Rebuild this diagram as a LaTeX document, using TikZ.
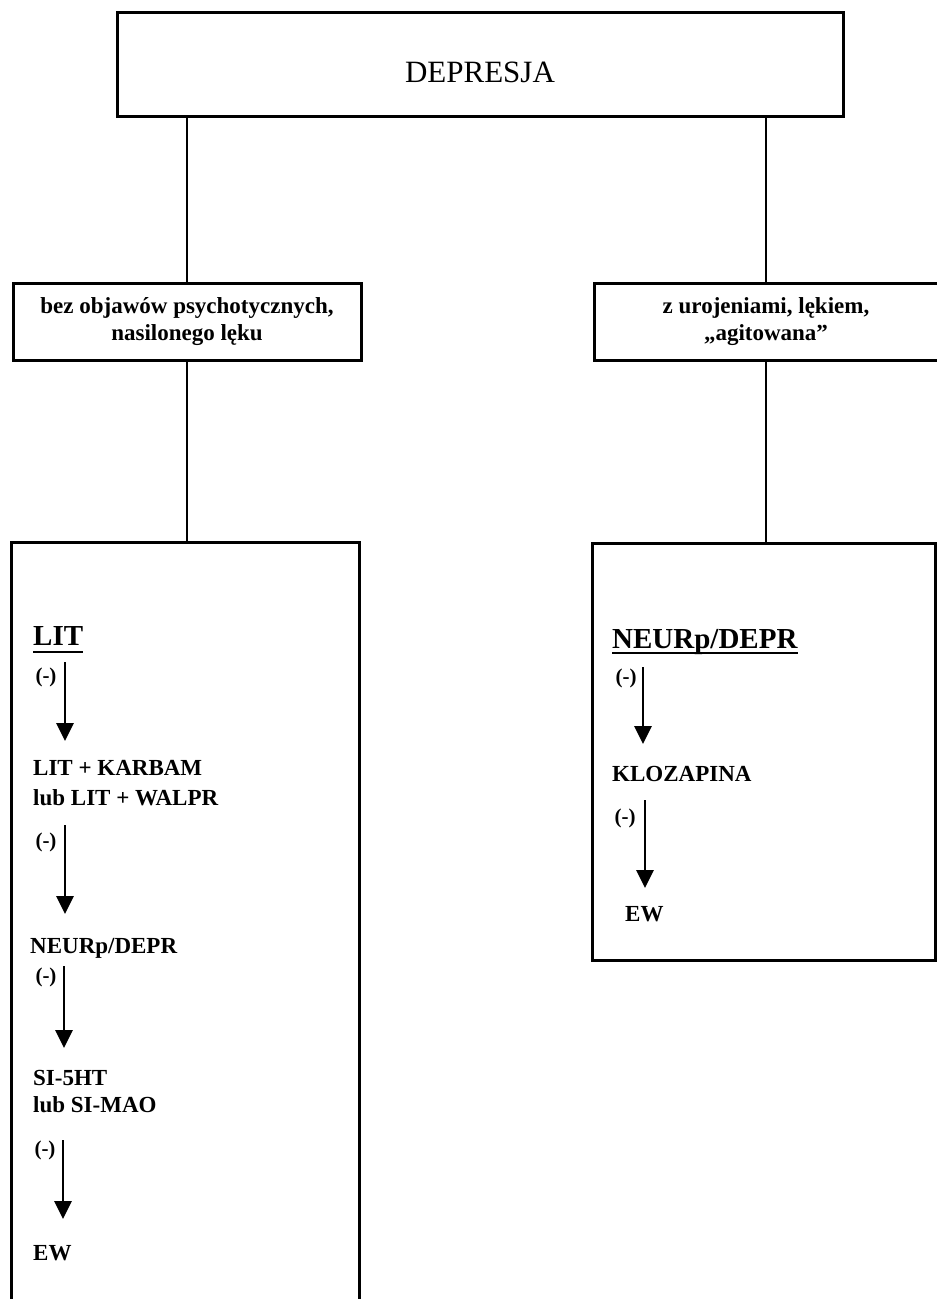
\documentclass[tikz,border=0pt]{standalone}
\usepackage{fontspec}
\setmainfont{Liberation Serif}
\usetikzlibrary{arrows.meta}
\begin{document}
\begin{tikzpicture}[x=1pt,y=-1pt,
  box/.style={draw, line width=3pt, inner sep=0pt},
  conn/.style={line width=2.6pt},
  arr/.style={line width=2.8pt, -{Triangle[length=18pt,width=17pt]}},
  body/.style={font=\fontsize{23}{29}\selectfont\bfseries, inner sep=0pt, anchor=base west},
  head/.style={font=\fontsize{29}{32}\selectfont\bfseries, inner sep=0pt, anchor=base west},
  minus/.style={font=\fontsize{21}{24}\selectfont\bfseries, inner sep=0pt},
  uline/.style={line width=1.8pt},
  midtext/.style={font=\fontsize{23}{27}\selectfont\bfseries, align=center}
]
\useasboundingbox (0,0) rectangle (937,1299);
\fill[white] (0,0) rectangle (937,1299);

% top box
\node[box, minimum width=726pt, minimum height=104pt,
      font=\fontsize{31}{34}\selectfont, text height=37pt, text depth=0pt] (top) at (480,64) {DEPRESJA};

% middle boxes
\node[box, midtext, minimum width=348pt, minimum height=77pt] (lm) at (187,321.5)
  {bez objawów psychotycznych,\\nasilonego lęku};
\node[box, midtext, minimum width=344pt, minimum height=77pt] (rm) at (766,321.5)
  {z urojeniami, lękiem,\\„agitowana”};

% bottom boxes
\node[inner sep=0pt, minimum width=347pt, minimum height=756pt] (lb) at (185.5,921) {};
\draw[line width=3pt] (lb.south west) -- (lb.north west) -- (lb.north east) -- (lb.south east);
\node[box, minimum width=343pt, minimum height=417pt] (rb) at (763.5,751.5) {};

% connectors between boxes
\draw[conn] (top.south -| lm.north) -- (lm.north);
\draw[conn] (top.south -| rm.north) -- (rm.north);
\draw[conn] (lm.south) -- (lb.north -| lm.south);
\draw[conn] (rm.south) -- (rb.north -| rm.south);

% left column
\node[head] (lit) at (33,645) {LIT};
\draw[uline] ([yshift=-7pt]lit.base west) -- ([yshift=-7pt]lit.base east);
\node[minus] (m1) at (46,677) {(-)};
\coordinate (a1s) at (65,662); \coordinate (a1e) at (65,741);
\draw[arr] (a1s) -- (a1e);
\node[body] (t1a) at (33,775) {LIT + KARBAM};
\node[body] (t1b) at (33,805) {lub LIT + WALPR};
\node[minus] (m2) at (46,842) {(-)};
\coordinate (a2s) at (65,825); \coordinate (a2e) at (65,914);
\draw[arr] (a2s) -- (a2e);
\node[body] (t2) at (30,953) {NEURp/DEPR};
\node[minus] (m3) at (46,977) {(-)};
\coordinate (a3s) at (64,966); \coordinate (a3e) at (64,1048);
\draw[arr] (a3s) -- (a3e);
\node[body] (t3a) at (33,1085) {SI-5HT};
\node[body] (t3b) at (33,1112) {lub SI-MAO};
\node[minus] (m4) at (45,1150) {(-)};
\coordinate (a4s) at (63,1140); \coordinate (a4e) at (63,1219);
\draw[arr] (a4s) -- (a4e);
\node[body] (t4) at (33,1260) {EW};

% right column
\node[head] (nd) at (612,648) {NEURp/DEPR};
\draw[uline] ([yshift=-5pt]nd.base west) -- ([yshift=-5pt]nd.base east);
\node[minus] (r1) at (626,678) {(-)};
\coordinate (b1s) at (643,667); \coordinate (b1e) at (643,744);
\draw[arr] (b1s) -- (b1e);
\node[body] (kl) at (612,781) {KLOZAPINA};
\node[minus] (r2) at (625,818) {(-)};
\coordinate (b2s) at (645,800); \coordinate (b2e) at (645,888);
\draw[arr] (b2s) -- (b2e);
\node[body] (ew2) at (625,921) {EW};
\end{tikzpicture}
\end{document}
